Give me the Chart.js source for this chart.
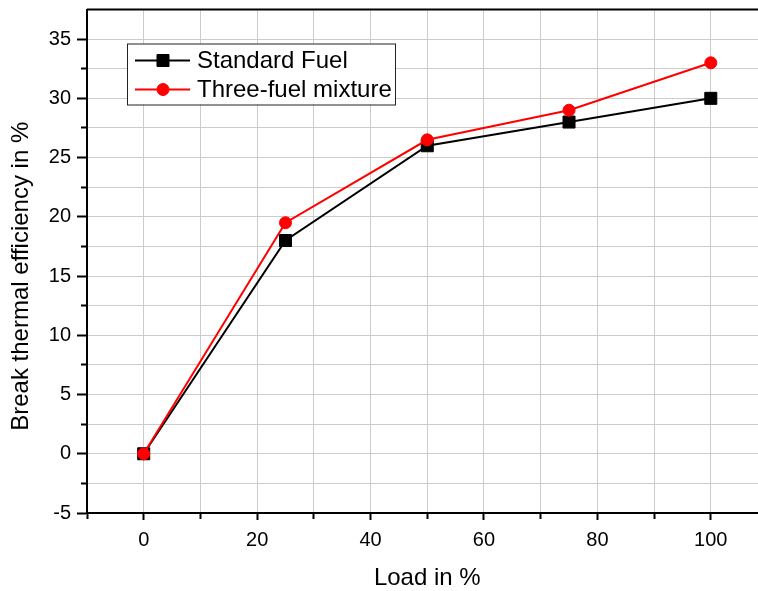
<!DOCTYPE html>
<html>
<head>
<meta charset="utf-8">
<title>Break thermal efficiency</title>
<script src="https://cdn.jsdelivr.net/npm/chart.js@4"></script>
<style>
  html, body { margin: 0; padding: 0; background: #fff; overflow: hidden; }
  #wrap { width: 758px; height: 591px; overflow: hidden; }
</style>
</head>
<body>
<div id="wrap"><canvas id="bte-chart" width="777" height="591"></canvas></div>
<script>
// Load (%) and break thermal efficiency (%) for each fuel
const loads = [0, 25, 50, 75, 100];
const standardFuel = [0, 18, 26, 28, 30];
const threeFuelMix = [0, 19.5, 26.5, 29, 33];

const yTitle = 'Break thermal efficiency in %';
const FONT = "'Liberation Sans', Arial, sans-serif";

const toPoints = (ys) => loads.map((x, i) => ({ x: x, y: ys[i] }));

// Top edge of the plot frame
const frame = {
    id: 'frame',
    afterDatasetsDraw(chart) {
        const { ctx, chartArea: a } = chart;
        ctx.save();
        ctx.strokeStyle = '#000';
        ctx.lineWidth = 2;
        ctx.beginPath();
        ctx.moveTo(a.left, a.top);
        ctx.lineTo(chart.width, a.top);
        ctx.stroke();
        ctx.restore();
    }
};

// Rotated y-axis title, sitting a little below the plot's middle
const sideTitle = {
    id: 'sideTitle',
    afterDraw(chart) {
        const { ctx, chartArea: a } = chart;
        ctx.save();
        ctx.translate(21, (a.top + a.bottom) / 2 + 15);
        ctx.rotate(-Math.PI / 2);
        ctx.fillStyle = '#000';
        ctx.font = '24px ' + FONT;
        ctx.textAlign = 'center';
        ctx.textBaseline = 'middle';
        ctx.fillText(yTitle, 0, 0);
        ctx.restore();
    }
};

// Boxed legend sitting inside the plot, top-left
const boxLegend = {
    id: 'boxLegend',
    afterDatasetsDraw(chart) {
        const { ctx, chartArea: a } = chart;
        const x = a.left + 40, y = a.top + 34;
        const w = 268, h = 61;
        ctx.save();
        ctx.fillStyle = '#fff';
        ctx.fillRect(x, y, w, h);
        ctx.strokeStyle = '#222';
        ctx.lineWidth = 1;
        ctx.strokeRect(x + 0.5, y + 0.5, w, h);

        chart.data.datasets.forEach((ds, i) => {
            const cy = y + 17 + i * 29;
            ctx.strokeStyle = ds.borderColor;
            ctx.lineWidth = 2;
            ctx.beginPath();
            ctx.moveTo(x + 8, cy);
            ctx.lineTo(x + 63, cy);
            ctx.stroke();

            ctx.fillStyle = ds.pointBackgroundColor;
            ctx.lineWidth = 1;
            Chart.helpers.drawPoint(ctx, {
                pointStyle: ds.pointStyle,
                radius: ds.pointRadius,
                rotation: 0,
                borderWidth: 1
            }, x + 36, cy);

            ctx.fillStyle = '#000';
            ctx.font = '24px ' + FONT;
            ctx.textBaseline = 'middle';
            ctx.textAlign = 'left';
            ctx.fillText(ds.label, x + 70, cy + 1);
        });
        ctx.restore();
    }
};

const ctx = document.getElementById('bte-chart').getContext('2d');
const bteChart = new Chart(ctx, {
    type: 'line',
    data: {
        datasets: [{
            label: 'Standard Fuel',
            data: toPoints(standardFuel),
            borderColor: '#000',
            backgroundColor: '#000',
            pointBackgroundColor: '#000',
            pointBorderColor: '#000',
            pointStyle: 'rect',
            pointRadius: 8.5,
            pointBorderWidth: 1,
            borderWidth: 2,
            tension: 0,
            order: 1,
        }, {
            label: 'Three-fuel mixture',
            data: toPoints(threeFuelMix),
            borderColor: '#ff0000',
            backgroundColor: '#ff0000',
            pointBackgroundColor: '#ff0000',
            pointBorderColor: '#ff0000',
            pointStyle: 'circle',
            pointRadius: 6,
            pointBorderWidth: 1,
            borderWidth: 2,
            tension: 0,
            order: 0,
        }],
    },
    options: {
        responsive: false,
        animation: false,
        layout: { padding: { top: 8, right: 3, left: 0, bottom: 0 } },
        plugins: {
            legend: { display: false },
            tooltip: { enabled: false },
        },
        scales: {
            x: {
                type: 'linear',
                min: -10,
                max: 110,
                afterFit(scale) {
                    scale.height = 78;
                    scale.paddingLeft = 0;
                    scale.paddingRight = 0;
                },
                border: { color: '#000', width: 2 },
                grid: {
                    color: (c) => (c.tick && c.tick.value === 110 ? 'rgba(0,0,0,0)' : '#cccccc'),
                    lineWidth: 1,
                    tickLength: 7,
                    tickColor: '#000',
                    tickWidth: 2,
                    tickBorderDash: (c) => (c.tick && c.tick.value % 20 === 0 ? [] : [5, 40]),
                },
                ticks: {
                    stepSize: 10,
                    autoSkip: false,
                    maxRotation: 0,
                    padding: 8,
                    color: '#000',
                    font: { family: FONT, size: 20 },
                    callback: (v) => (v % 20 === 0 ? v : ''),
                },
                title: {
                    display: true,
                    text: 'Load in %',
                    color: '#000',
                    font: { family: FONT, size: 24, lineHeight: 1 },
                    padding: { top: 0, bottom: 1 },
                },
            },
            y: {
                min: -5,
                max: 37.5,
                afterFit(scale) {
                    scale.width = 87;
                    scale.paddingTop = 0;
                    scale.paddingBottom = 0;
                },
                border: { color: '#000', width: 2 },
                grid: {
                    color: '#cccccc',
                    lineWidth: 1,
                    tickLength: 10,
                    tickWidth: 2,
                    tickColor: (c) => (c.tick && c.tick.value === 37.5 ? 'rgba(0,0,0,0)' : '#000'),
                    tickBorderDash: (c) => (c.tick && c.tick.value % 5 === 0 ? [] : [0, 4, 40, 0]),
                },
                ticks: {
                    stepSize: 2.5,
                    autoSkip: false,
                    padding: 6,
                    color: '#000',
                    font: { family: FONT, size: 20 },
                    callback: (v) => (v % 5 === 0 ? v : ''),
                },
            },
        },
    },
    plugins: [frame, boxLegend, sideTitle],
});
</script>
</body>
</html>
